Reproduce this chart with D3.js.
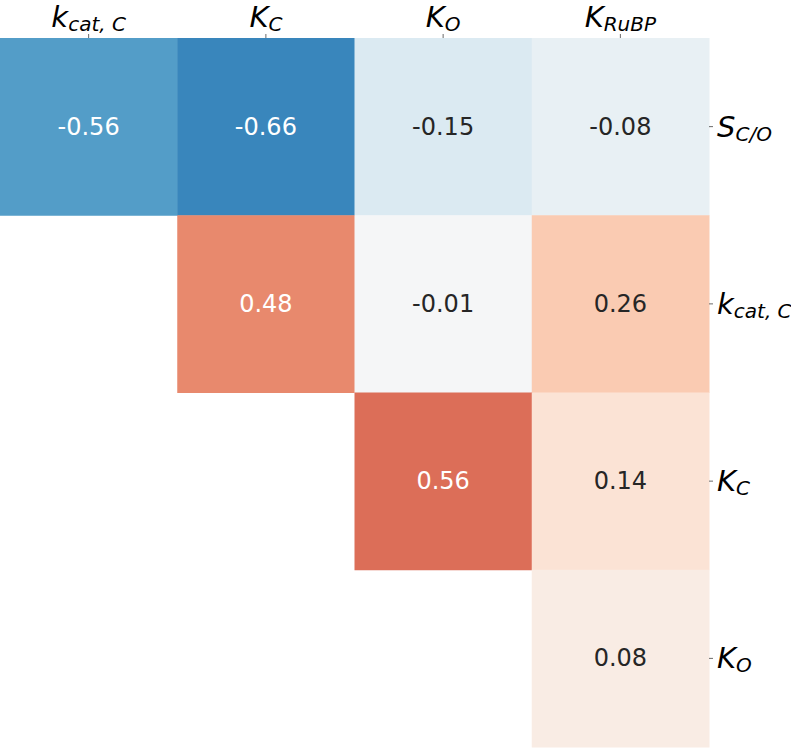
<!DOCTYPE html>
<html>
<head>
<meta charset="utf-8">
<script src="https://cdn.jsdelivr.net/npm/d3@7"></script>
<style>
  html, body { margin: 0; padding: 0; background: #fff; }
  svg { display: block; }
  text { font-family: "DejaVu Sans", sans-serif; }
</style>
</head>
<body>
<svg id="chart" width="791" height="748"></svg>
<script>
// ---- data ----
const colKeys = ["kcatC", "KC", "KO", "KRuBP"];
const rowKeys = ["SCO", "kcatC", "KC", "KO"];
const labelBase = { SCO: "S", kcatC: "k", KC: "K", KO: "K", KRuBP: "K" };
const labelSub  = { SCO: "C/O", kcatC: "cat, C", KC: "C", KO: "O", KRuBP: "RuBP" };
const row0 = [-0.56, -0.66, -0.15, -0.08];
const row1 = [null, 0.48, -0.01, 0.26];
const row2 = [null, null, 0.56, 0.14];
const row3 = [null, null, null, 0.08];
const values = [row0, row1, row2, row3];
const colorDomain = [1, 0.8, 0.6, 0.4, 0.2, 0, -0.2, -0.4, -0.6, -0.8, -1];
const colorRange = ['#67001f','#b2182b','#d6604d','#f4a582','#fddbc7','#f7f7f7','#d1e5f0','#92c5de','#4393c3','#2166ac','#053061'];

// ---- layout ----
const svg = d3.select("#chart");
const plotLeft = 0, plotTop = 38, plotSize = 709;
const x = d3.scaleBand().domain(colKeys.map((d, i) => i)).range([plotLeft, plotLeft + plotSize]).padding(0);
const y = d3.scaleBand().domain(rowKeys.map((d, i) => i)).range([plotTop, plotTop + plotSize]).padding(0);
const color = d3.scaleLinear().domain(colorDomain).range(colorRange).interpolate(d3.interpolateRgb);

const cells = [];
values.forEach((row, r) => row.forEach((v, c) => { if (v !== null) cells.push({ r, c, v }); }));

const g = svg.append("g");
g.selectAll("rect").data(cells).join("rect")
  .attr("x", d => x(d.c))
  .attr("y", d => y(d.r))
  .attr("width", x.bandwidth() + 0.5)
  .attr("height", y.bandwidth() + 0.5)
  .attr("fill", d => color(d.v));

function lum(c) {
  const rgb = d3.rgb(c);
  const f = u => { u /= 255; return u <= 0.03928 ? u / 12.92 : Math.pow((u + 0.055) / 1.055, 2.4); };
  return 0.2126 * f(rgb.r) + 0.7152 * f(rgb.g) + 0.0722 * f(rgb.b);
}

g.selectAll("text.annot").data(cells).join("text")
  .attr("class", "annot")
  .attr("x", d => x(d.c) + x.bandwidth() / 2)
  .attr("y", d => y(d.r) + y.bandwidth() / 2)
  .attr("text-anchor", "middle")
  .attr("dominant-baseline", "central")
  .attr("font-size", 24)
  .attr("fill", d => lum(color(d.v)) < 0.408 ? "#ffffff" : "#262626")
  .text(d => d.v.toFixed(2));

function mathLabel(sel, key) {
  sel.selectAll("*").remove();
  sel.text(null);
  sel.append("tspan").attr("font-style", "italic").attr("font-size", 29).text(labelBase[key]);
  sel.append("tspan").attr("font-style", "italic").attr("font-size", 20).attr("dy", 4).text(labelSub[key]);
}

// top axis
const xAxis = d3.axisTop(x).tickSize(4).tickSizeOuter(0).tickFormat(() => "");
const xg = svg.append("g").attr("transform", `translate(0,${plotTop})`).call(xAxis);
xg.select(".domain").remove();
xg.selectAll(".tick line").attr("stroke", "#444").attr("stroke-width", 0.8);
xg.selectAll(".tick text").each(function(d) {
  const t = d3.select(this);
  t.attr("y", -11).attr("dy", 0).attr("fill", "#000").attr("text-anchor", "middle");
  mathLabel(t, colKeys[d]);
});

// right axis
const yAxis = d3.axisRight(y).tickSize(4).tickSizeOuter(0).tickFormat(() => "");
const yg = svg.append("g").attr("transform", `translate(${plotLeft + plotSize},0)`).call(yAxis);
yg.select(".domain").remove();
yg.selectAll(".tick line").attr("stroke", "#444").attr("stroke-width", 0.8);
yg.selectAll(".tick text").each(function(d) {
  const t = d3.select(this);
  t.attr("x", 8).attr("y", 10).attr("dy", 0).attr("fill", "#000").attr("text-anchor", "start");
  mathLabel(t, rowKeys[d]);
});
</script>
</body>
</html>
